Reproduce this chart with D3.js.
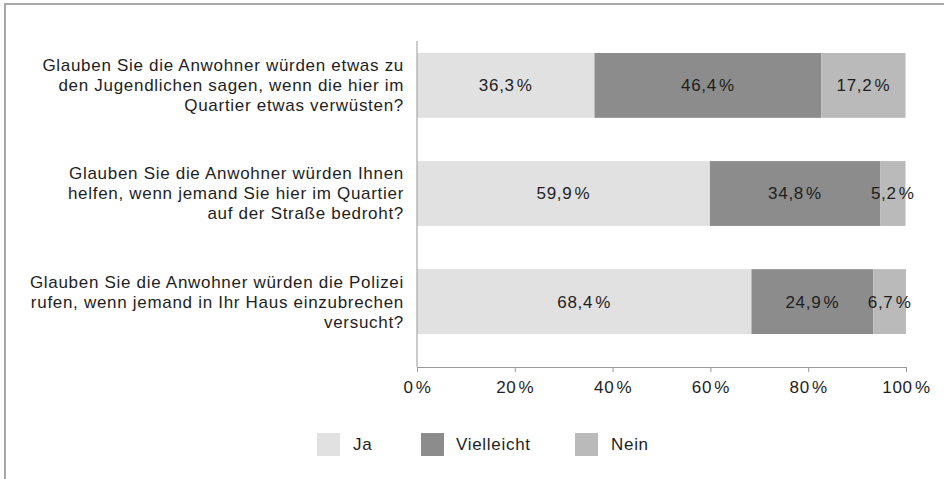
<!DOCTYPE html>
<html>
<head>
<meta charset="utf-8">
<script src="https://cdn.jsdelivr.net/npm/d3@7"></script>
<style>
  body { margin: 0; background: #fff; }
  svg { display: block; font-family: "Liberation Sans", Arial, sans-serif; }
  .frame { fill: none; stroke: #a8a8a8; stroke-width: 2; }
  .q-label, .value-label, .legend-label { fill: #1e1e1e; font-size: 17px; letter-spacing: 0.7px; }
  .axis path, .axis line { stroke: #999; }
  .axis text { fill: #1e1e1e; font-size: 17px; letter-spacing: 0.7px; font-family: "Liberation Sans", Arial, sans-serif; }
</style>
</head>
<body>
<script>
// Questions (each split into its label lines)
const questions = [
  ["Glauben Sie die Anwohner würden etwas zu", "den Jugendlichen sagen, wenn die hier im", "Quartier etwas verwüsten?"],
  ["Glauben Sie die Anwohner würden Ihnen", "helfen, wenn jemand Sie hier im Quartier", "auf der Straße bedroht?"],
  ["Glauben Sie die Anwohner würden die Polizei", "rufen, wenn jemand in Ihr Haus einzubrechen", "versucht?"]
];
const series = ["Ja", "Vielleicht", "Nein"];
const ja = [36.3, 59.9, 68.4];
const vielleicht = [46.4, 34.8, 24.9];
const nein = [17.2, 5.2, 6.7];
const tickValues = [0, 20, 40, 60, 80, 100];

const colors = ["#e1e1e1", "#8c8c8c", "#bababa"];
const W = 944, H = 479;
const plot = { left: 417, right: 906, top: 53, bottom: 334, axisTop: 41, axisY: 367 };

const fmt = v => String(v).replace(".", ",") + "\u200A%";

const svg = d3.select("body").append("svg").attr("width", W).attr("height", H);

// Frame (top and left edges)
svg.append("path").attr("class", "frame").attr("d", `M5,${H} L5,4 L${W},4`);

const x = d3.scaleLinear().domain([0, 100]).range([plot.left, plot.right]);
const y = d3.scaleBand().domain(d3.range(questions.length))
  .range([plot.top, plot.bottom]).paddingInner(0.4);

const rows = d3.range(questions.length).map(i => ({ Ja: ja[i], Vielleicht: vielleicht[i], Nein: nein[i] }));
const stacked = d3.stack().keys(series)(rows);
const color = d3.scaleOrdinal().domain(series).range(colors);

// Bars
const layers = svg.append("g").selectAll("g").data(stacked).enter().append("g")
  .attr("fill", d => color(d.key));

layers.selectAll("rect").data(d => d).enter().append("rect")
  .attr("x", d => x(d[0]))
  .attr("y", (d, i) => y(i))
  .attr("width", d => x(d[1]) - x(d[0]))
  .attr("height", y.bandwidth());

// Value labels
layers.selectAll("text").data(d => d.map(v => ({ v, key: d.key }))).enter().append("text")
  .attr("class", "value-label")
  .attr("x", d => (x(d.v[0]) + x(d.v[1])) / 2)
  .attr("y", (d, i) => y(i) + y.bandwidth() / 2)
  .attr("dy", "0.35em")
  .attr("text-anchor", "middle")
  .text(d => fmt(d.v.data[d.key]));

// Question labels
const ql = svg.append("g").selectAll("text").data(questions).enter().append("text")
  .attr("class", "q-label")
  .attr("text-anchor", "end")
  .attr("x", plot.left - 13)
  .attr("y", (d, i) => y(i) + y.bandwidth() / 2 - 20);

ql.selectAll("tspan").data(d => d).enter().append("tspan")
  .attr("x", plot.left - 13)
  .attr("dy", (d, i) => i === 0 ? "0.35em" : 20)
  .text(d => d);

// Vertical axis line
svg.append("line")
  .attr("x1", plot.left).attr("x2", plot.left)
  .attr("y1", plot.axisTop).attr("y2", plot.axisY)
  .attr("stroke", "#999");

// X axis
svg.append("g").attr("class", "axis")
  .attr("transform", `translate(0,${plot.axisY})`)
  .call(d3.axisBottom(x).tickValues(tickValues).tickSizeOuter(0).tickSize(5).tickPadding(9)
    .tickFormat(d => d + "\u200A%"))
  .call(g => g.select(".domain").attr("stroke", "#999"));

// Legend
const legendX = [317, 421, 575];
const legend = svg.append("g").selectAll("g").data(series).enter().append("g")
  .attr("transform", (d, i) => `translate(${legendX[i]},433)`);

legend.append("rect").attr("width", 23).attr("height", 23).attr("fill", d => color(d));
legend.append("text").attr("class", "legend-label")
  .attr("x", d => d === "Vielleicht" ? 35 : 36).attr("y", 11.5).attr("dy", "0.35em")
  .text(d => d);
</script>
</body>
</html>
